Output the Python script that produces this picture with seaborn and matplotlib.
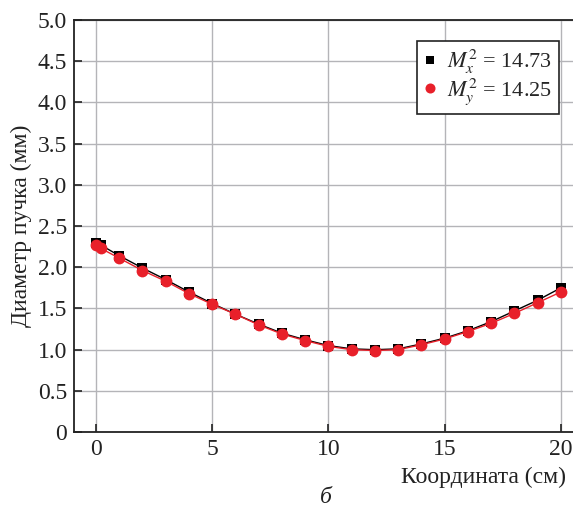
import matplotlib
matplotlib.use("Agg")
import matplotlib.pyplot as plt
import seaborn as sns
import pandas as pd

x_coord = [0, 0.2, 1, 2, 3, 4, 5, 6, 7, 8, 9, 10, 11, 12, 13, 14, 15, 16, 17, 18, 19, 20]
diam_x = [2.29, 2.27, 2.14, 1.99, 1.85, 1.70, 1.56, 1.43, 1.31, 1.20, 1.12, 1.05, 1.01, 1.00, 1.01, 1.07, 1.14, 1.23, 1.34, 1.47, 1.60, 1.75]
diam_y = [2.27, 2.23, 2.11, 1.96, 1.83, 1.68, 1.55, 1.43, 1.30, 1.19, 1.11, 1.04, 1.00, 0.99, 1.00, 1.06, 1.13, 1.22, 1.32, 1.44, 1.57, 1.70]
label_x = r"$M_x^2$ = 14.73"
label_y = r"$M_y^2$ = 14.25"

sns.set_theme(style="whitegrid")
plt.rcParams['font.family'] = ['Liberation Serif', 'DejaVu Serif']
plt.rcParams['mathtext.fontset'] = 'stix'

df = pd.DataFrame({"x": x_coord, "dx": diam_x, "dy": diam_y})

fig = plt.figure(figsize=(5.73, 5.09), dpi=100)
ax = fig.add_axes([0.129, 0.151, 0.871, 0.810])

sns.lineplot(data=df, x="x", y="dx", ax=ax, color="black", lw=1.0, marker="s",
             markersize=7.5, markeredgewidth=0, label=label_x)
sns.lineplot(data=df, x="x", y="dy", ax=ax, color="#e8202a", lw=1.0, marker="o",
             markersize=8.5, markeredgewidth=0, label=label_y)

ax.set_xlim(-0.95, 20.52)
ax.set_ylim(0, 5.0)
ax.set_xticks([0, 5, 10, 15, 20])
ax.set_yticks([i * 0.5 for i in range(11)])
ax.set_yticklabels([f"{i*0.5:.1f}" if i > 0 else "0" for i in range(11)])
ax.grid(True, color="#b4b4b8", lw=1.0)
ax.set_axisbelow(True)
for s in ["left", "bottom", "top"]:
    ax.spines[s].set_color("#222222")
    ax.spines[s].set_linewidth(1.3)
ax.spines["right"].set_visible(False)
ax.tick_params(axis="both", direction="in", length=6, width=1.2, color="#222222",
               labelsize=17, labelcolor="#222222", bottom=True, left=True, pad=5)

ax.set_xlabel("Координата (см)", fontsize=17, color="#222222")
ax.xaxis.set_label_coords(0.985, -0.085, transform=ax.transAxes)
ax.xaxis.label.set_ha("right")
ax.xaxis.label.set_va("top")
ax.set_ylabel("Диаметр пучка (мм)", fontsize=17, color="#222222", labelpad=4)

leg = ax.legend(loc="upper right", bbox_to_anchor=(0.972, 0.948), fontsize=16,
                frameon=True, fancybox=False, handlelength=0.5, handletextpad=0.55,
                borderpad=0.3, labelspacing=0.0, edgecolor="#222222",
                markerscale=0.85, borderaxespad=0)
leg.get_frame().set_linewidth(1.2)
leg.get_frame().set_alpha(1)
for h in leg.legend_handles:
    h.set_linestyle("None")

fig.text(0.569, 0.012, "б", fontsize=17, style="italic", ha="center", color="#222222")

fig.savefig("out.png", dpi=100)
